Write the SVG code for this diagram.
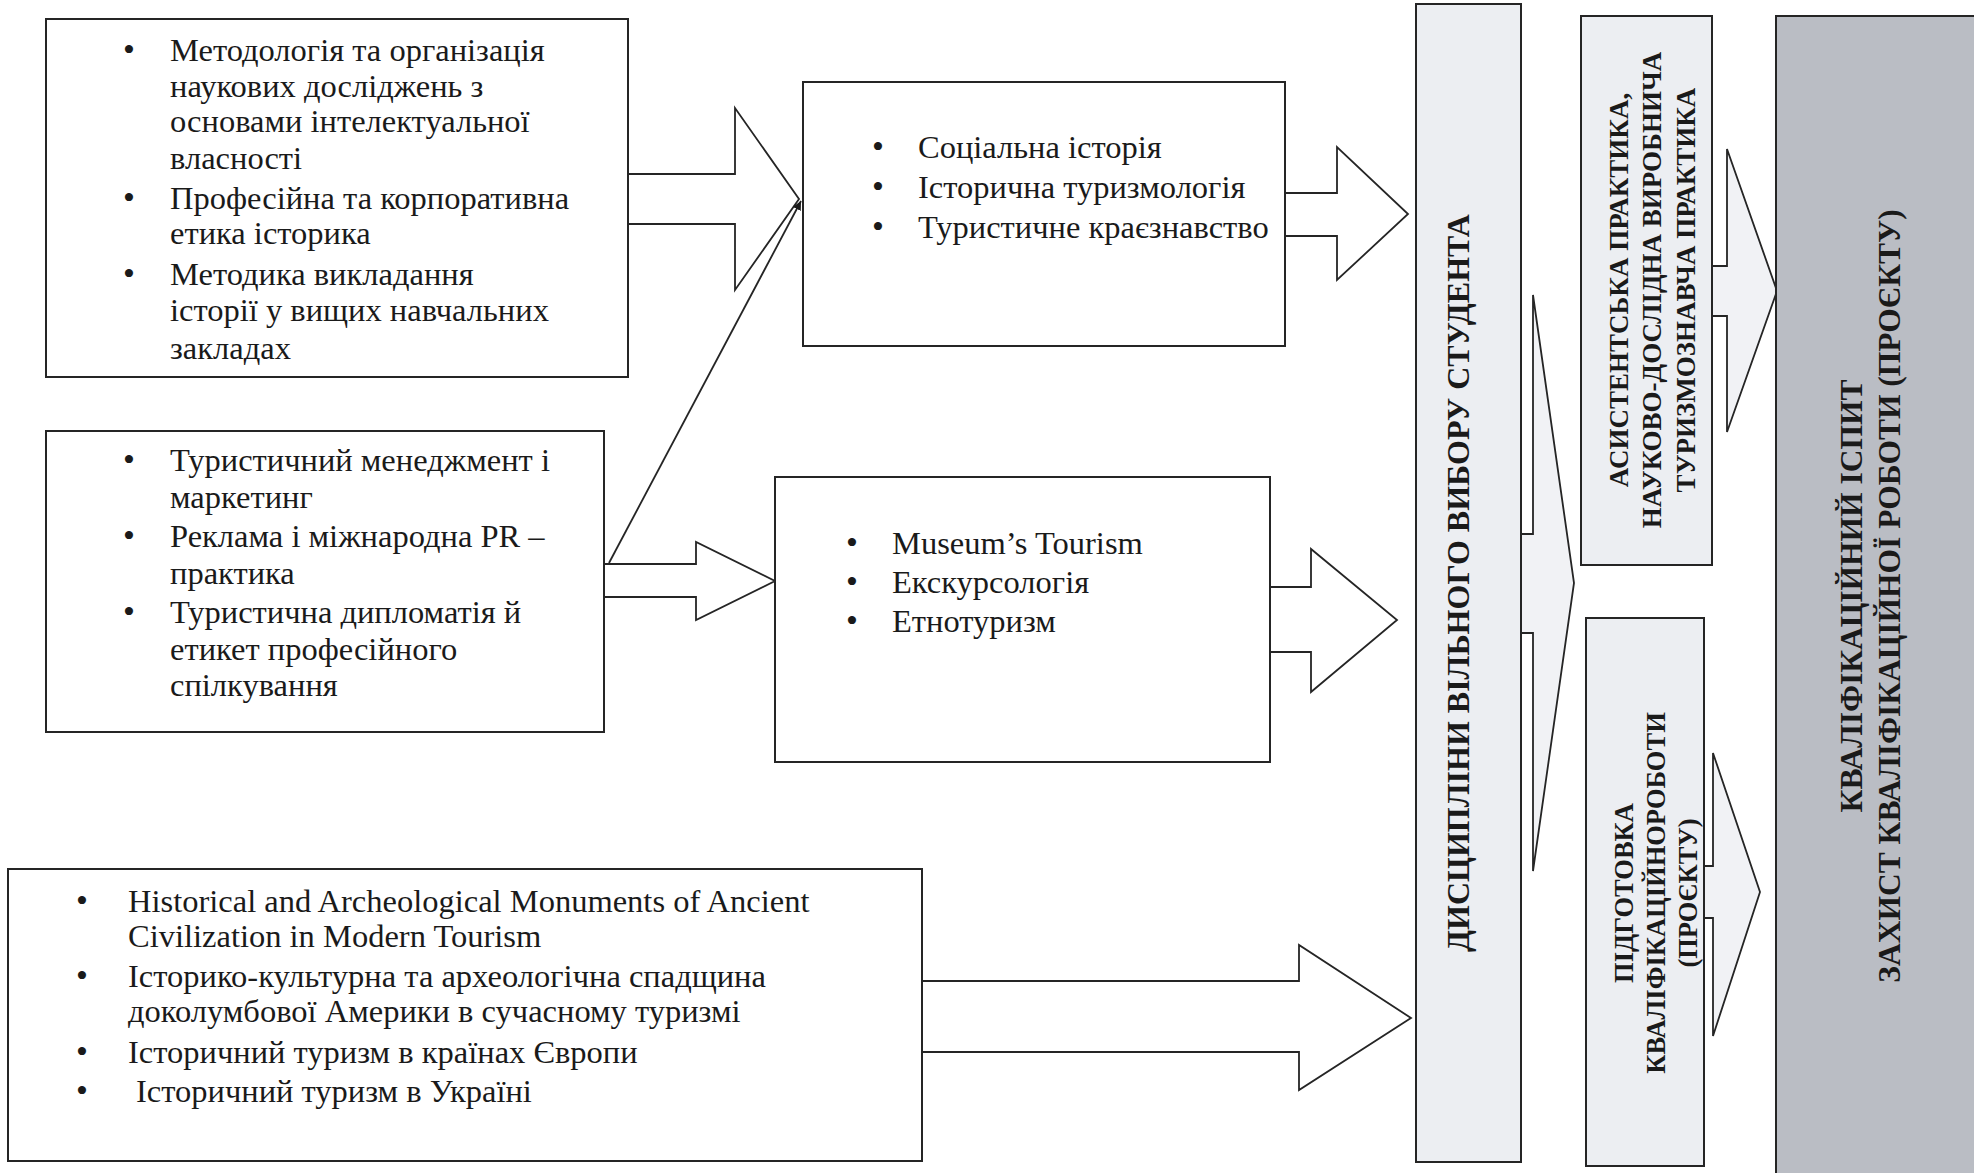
<svg xmlns="http://www.w3.org/2000/svg" width="1974" height="1173" viewBox="0 0 1974 1173">
<style>
.box{fill:#ffffff;stroke:#252525;stroke-width:2}
.vbox{fill:#eceef2;stroke:#252525;stroke-width:2}
.dark{fill:#babdc4;stroke:#252525;stroke-width:2}
.arr{fill:#ffffff;stroke:#252525;stroke-width:1.8;stroke-linejoin:miter}
.arr2{fill:#f1f2f5;stroke:#252525;stroke-width:1.8;stroke-linejoin:miter}
.t{font-family:"Liberation Serif","Times New Roman",serif;font-size:32.5px;fill:#1a1a1a}
.b{font-family:"Liberation Serif","Times New Roman",serif;font-size:34px;fill:#1a1a1a}
.v{font-family:"Liberation Serif","Times New Roman",serif;font-weight:bold;fill:#1a1a1a;text-anchor:middle}
.ln{fill:none;stroke:#252525;stroke-width:1.8}
</style>
<defs>
<marker id="tri" viewBox="0 0 10 10" refX="10" refY="5" markerWidth="5" markerHeight="5" orient="auto" markerUnits="strokeWidth">
<path d="M0,0 L10,5 L0,10 z" fill="#1a1a1a"/>
</marker>
</defs>
<rect width="1974" height="1173" fill="#ffffff"/>

<g id="connectors">
<path class="arr" d="M628,174 H735 V108 L799,199 L735,290 V224 H628"/>
<path class="arr" d="M604,564 H696 V542 L775,581 L696,620 V597 H604"/>
<path class="arr" d="M1285,193 H1337 V147 L1408,214 L1337,280 V236 H1285"/>
<path class="arr" d="M1270,587 H1311 V549 L1397,620 L1311,692 V652 H1270"/>
<path class="arr" d="M922,981 H1299 V945 L1411,1018 L1299,1090 V1052 H922"/>
<path class="arr2" d="M1521,534 H1533 V295 L1574,583 L1533,871 V633 H1521"/>
<path class="arr2" d="M1712,266 H1727 V149 L1777,291 L1727,432 V316 H1712"/>
<path class="arr2" d="M1704,866 H1713 V753 L1760,892 L1713,1036 V918 H1704"/>
<line class="ln" x1="609" y1="563" x2="801" y2="201" marker-end="url(#tri)"/>
</g>

<g id="node-methodology">
<rect class="box" x="46" y="19" width="582" height="358"/>
<text class="b" x="123" y="61">•</text>
<text class="b" x="123" y="209">•</text>
<text class="b" x="123" y="285">•</text>
<text class="t">
<tspan x="170" y="61">Методологія та організація</tspan>
<tspan x="170" y="97">наукових досліджень з</tspan>
<tspan x="170" y="132">основами інтелектуальної</tspan>
<tspan x="170" y="169">власності</tspan>
<tspan x="170" y="209">Професійна та корпоративна</tspan>
<tspan x="170" y="244">етика історика</tspan>
<tspan x="170" y="285">Методика викладання</tspan>
<tspan x="170" y="321">історії у вищих навчальних</tspan>
<tspan x="170" y="359">закладах</tspan>
</text>
</g>

<g id="node-tourism-management">
<rect class="box" x="46" y="431" width="558" height="301"/>
<text class="b" x="123" y="471">•</text>
<text class="b" x="123" y="547">•</text>
<text class="b" x="123" y="623">•</text>
<text class="t">
<tspan x="170" y="471">Туристичний менеджмент і</tspan>
<tspan x="170" y="508">маркетинг</tspan>
<tspan x="170" y="547">Реклама і міжнародна PR –</tspan>
<tspan x="170" y="584">практика</tspan>
<tspan x="170" y="623">Туристична дипломатія й</tspan>
<tspan x="170" y="660">етикет професійного</tspan>
<tspan x="170" y="696">спілкування</tspan>
</text>
</g>

<g id="node-historical-tourism">
<rect class="box" x="8" y="869" width="914" height="292"/>
<text class="b" x="76" y="912">•</text>
<text class="b" x="76" y="987">•</text>
<text class="b" x="76" y="1063">•</text>
<text class="b" x="76" y="1102">•</text>
<text class="t">
<tspan x="128" y="912">Historical and Archeological Monuments of Ancient</tspan>
<tspan x="128" y="947">Civilization in Modern Tourism</tspan>
<tspan x="128" y="987">Історико-культурна та археологічна спадщина</tspan>
<tspan x="128" y="1022">доколумбової Америки в сучасному туризмі</tspan>
<tspan x="128" y="1063">Історичний туризм в країнах Європи</tspan>
<tspan x="136" y="1102">Історичний туризм в Україні</tspan>
</text>
</g>

<g id="node-social-history">
<rect class="box" x="803" y="82" width="482" height="264"/>
<text class="b" x="872" y="158">•</text>
<text class="b" x="872" y="198">•</text>
<text class="b" x="872" y="238">•</text>
<text class="t">
<tspan x="918" y="158">Соціальна історія</tspan>
<tspan x="918" y="198">Історична туризмологія</tspan>
<tspan x="918" y="238">Туристичне краєзнавство</tspan>
</text>
</g>

<g id="node-museum-tourism">
<rect class="box" x="775" y="477" width="495" height="285"/>
<text class="b" x="846" y="554">•</text>
<text class="b" x="846" y="593">•</text>
<text class="b" x="846" y="632">•</text>
<text class="t">
<tspan x="892" y="554">Museum’s Tourism</tspan>
<tspan x="892" y="593">Екскурсологія</tspan>
<tspan x="892" y="632">Етнотуризм</tspan>
</text>
</g>

<g id="node-elective">
<rect class="vbox" x="1416" y="4" width="105" height="1158"/>
<text class="v" font-size="32" transform="translate(1469,583) rotate(-90)">ДИСЦИПЛІНИ ВІЛЬНОГО ВИБОРУ СТУДЕНТА</text>
</g>

<g id="node-practice">
<rect class="vbox" x="1581" y="16" width="131" height="549" fill="#e8eaee"/>
<text class="v" font-size="27" transform="translate(1628,290) rotate(-90)">АСИСТЕНТСЬКА ПРАКТИКА,</text>
<text class="v" font-size="27" transform="translate(1661,290) rotate(-90)">НАУКОВО-ДОСЛІДНА ВИРОБНИЧА</text>
<text class="v" font-size="27" transform="translate(1695,290) rotate(-90)">ТУРИЗМОЗНАВЧА ПРАКТИКА</text>
</g>

<g id="node-thesis-prep">
<rect class="vbox" x="1586" y="618" width="118" height="548"/>
<text class="v" font-size="26.5" transform="translate(1633,893) rotate(-90)">ПІДГОТОВКА</text>
<text class="v" font-size="26.5" transform="translate(1665,893) rotate(-90)">КВАЛІФІКАЦІЙНОРОБОТИ</text>
<text class="v" font-size="26.5" transform="translate(1697,893) rotate(-90)">(ПРОЄКТУ)</text>
</g>

<g id="node-final-exam">
<rect class="dark" x="1776" y="16" width="210" height="1170"/>
<text class="v" font-size="31.5" transform="translate(1862,596) rotate(-90)">КВАЛІФІКАЦІЙНИЙ ІСПИТ</text>
<text class="v" font-size="31.5" transform="translate(1900,596) rotate(-90)">ЗАХИСТ КВАЛІФІКАЦІЙНОЇ РОБОТИ (ПРОЄКТУ)</text>
</g>
</svg>
